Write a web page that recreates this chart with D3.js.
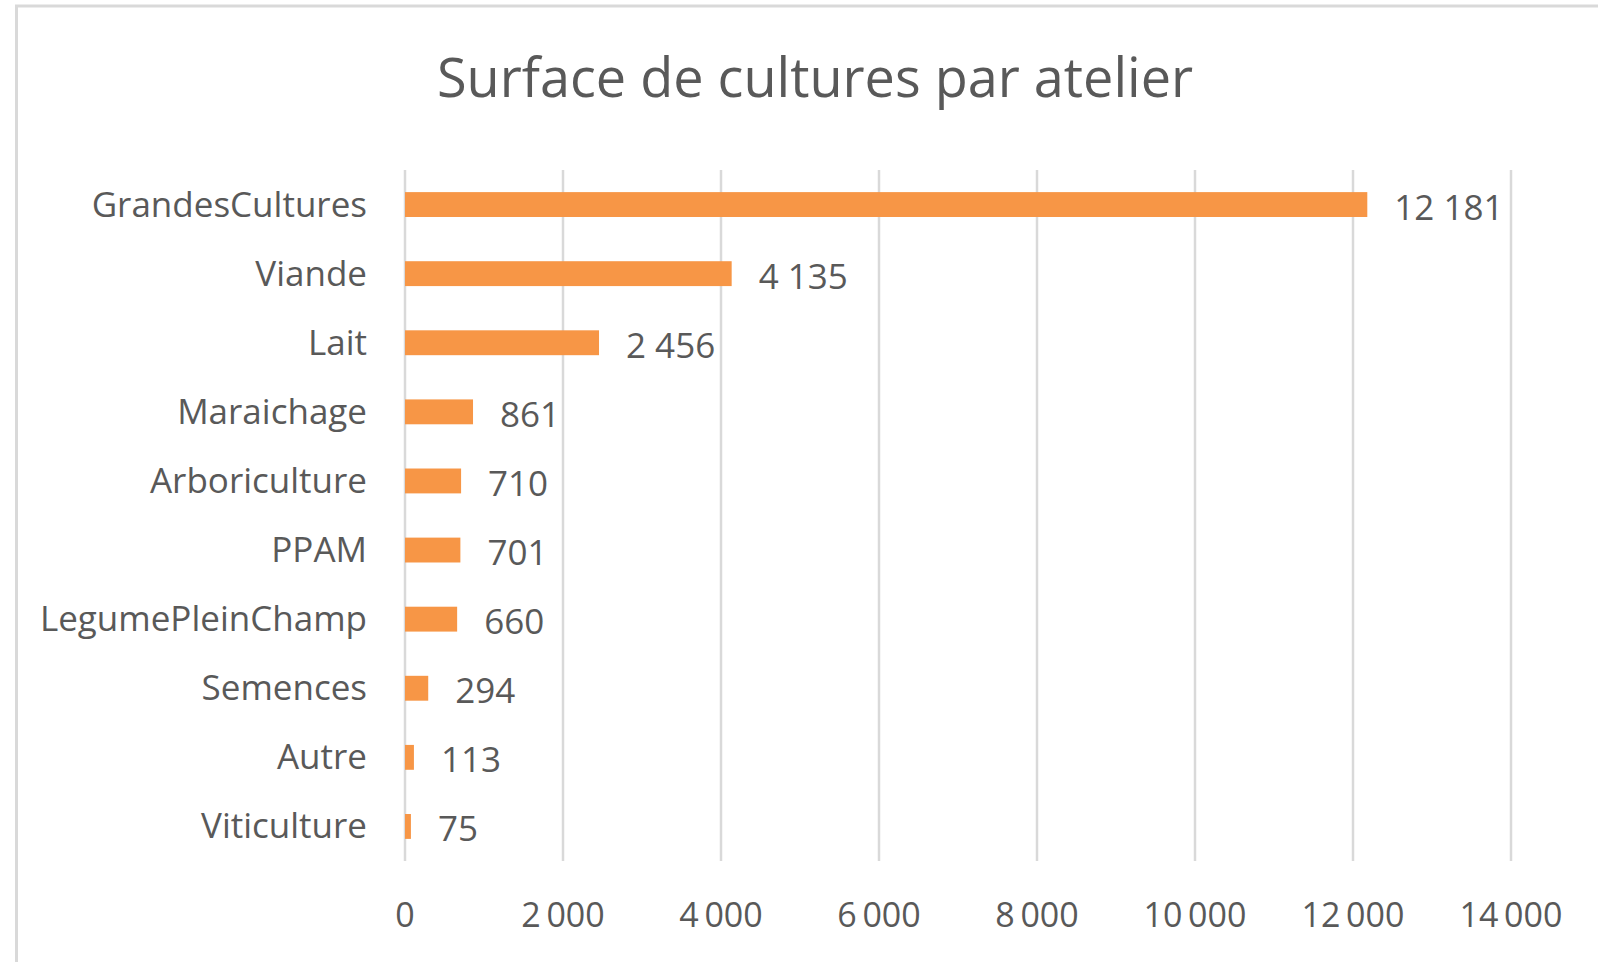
<!DOCTYPE html>
<html>
<head>
<meta charset="utf-8">
<script src="https://cdn.jsdelivr.net/npm/d3@7.9.0/dist/d3.min.js"></script>
<style>
  body { margin: 0; background: #fff; }
  svg text { font-family: "Open Sans", sans-serif; fill: #595959; }
</style>
</head>
<body>
<svg id="chart" width="1598" height="962"></svg>
<script>
// Chart data
const categories = ['GrandesCultures', 'Viande', 'Lait', 'Maraichage', 'Arboriculture',
  'PPAM', 'LegumePleinChamp', 'Semences', 'Autre', 'Viticulture'];
const surfaces = [12181, 4135, 2456, 861, 710, 701, 660, 294, 113, 75];
const xTicks = [0, 2000, 4000, 6000, 8000, 10000, 12000, 14000];
const title = 'Surface de cultures par atelier';

// French style thousands: "12 181" (thin space on axis, plain space on labels)
const fmtTick = (v) => d3.format(',')(v).replace(/,/g, '\u2009');
const fmtValue = (v) => d3.format(',')(v).replace(/,/g, '\u00a0');

const svg = d3.select('#chart');

// chart frame
svg.append('rect')
  .attr('x', 16.5).attr('y', 6)
  .attr('width', 1700).attr('height', 1100)
  .attr('fill', 'none')
  .attr('stroke', '#d9d9d9')
  .attr('stroke-width', 3);

svg.append('text')
  .attr('x', 815).attr('y', 97)
  .attr('text-anchor', 'middle')
  .style('font-size', '54px')
  .text(title);

const x = d3.scaleLinear().domain([0, 14000]).range([405, 1511]);
const y = d3.scaleBand().domain(categories).range([170, 861])
  .paddingInner(0.64).paddingOuter(0.32);

// vertical gridlines
svg.append('g')
  .selectAll('line')
  .data(xTicks)
  .join('line')
  .attr('x1', (d) => x(d)).attr('x2', (d) => x(d))
  .attr('y1', 170).attr('y2', 861)
  .attr('stroke', '#d9d9d9')
  .attr('stroke-width', 2.5);

// x tick labels
svg.append('g')
  .selectAll('text')
  .data(xTicks)
  .join('text')
  .attr('x', (d) => x(d))
  .attr('y', 927)
  .attr('text-anchor', 'middle')
  .style('font-size', '34px')
  .text((d) => fmtTick(d));

// category labels
svg.append('g')
  .selectAll('text')
  .data(categories)
  .join('text')
  .attr('x', 367)
  .attr('y', (d) => y(d) + y.bandwidth() / 2 + 12)
  .attr('text-anchor', 'end')
  .style('font-size', '35px')
  .text((d) => d);

// bars
const rows = categories.map((c, i) => ({ cat: c, value: surfaces[i] }));
svg.append('g')
  .selectAll('rect')
  .data(rows)
  .join('rect')
  .attr('x', x(0))
  .attr('y', (d) => y(d.cat))
  .attr('width', (d) => x(d.value) - x(0))
  .attr('height', y.bandwidth())
  .attr('fill', '#f79646');

// value labels
svg.append('g')
  .selectAll('text')
  .data(rows)
  .join('text')
  .attr('x', (d) => x(d.value) + 27)
  .attr('y', (d) => y(d.cat) + y.bandwidth() / 2 + 15)
  .style('font-size', '35px')
  .text((d) => fmtValue(d.value));
</script>
</body>
</html>
